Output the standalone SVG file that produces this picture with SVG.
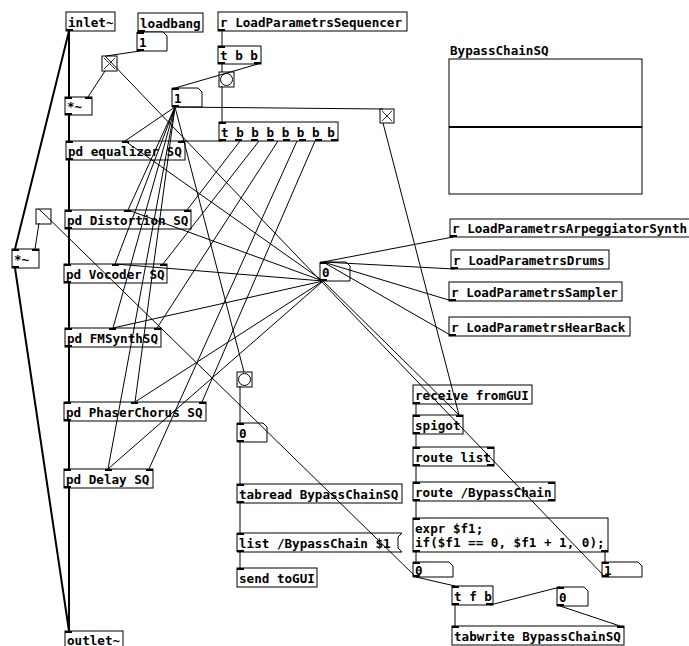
<svg xmlns="http://www.w3.org/2000/svg" width="689" height="646" viewBox="0 0 689 646">
<style>
.b{fill:#fff;stroke:#000;stroke-width:1}
.t{font-family:"DejaVu Sans Mono","Liberation Mono",monospace;font-weight:bold;font-size:12.6px;fill:#000}
.c{stroke:#000;stroke-width:1;fill:none}
.x{stroke:#333;stroke-width:1;fill:none}
.s{stroke:#000;stroke-width:2;fill:none}
.io{fill:#000}
</style>
<rect width="689" height="646" fill="#fff"/>
<g id="inlet"><rect class="b" x="66" y="12" width="49" height="19"/><text class="t" x="68" y="27">inlet~</text><rect class="io" x="66" y="29" width="7" height="2"/></g>
<g id="loadbang"><rect class="b" x="138" y="13" width="65" height="19"/><text class="t" x="140" y="28">loadbang</text><rect class="io" x="138" y="30" width="7" height="2"/></g>
<g id="num1a"><path class="b" d="M137,32H163L167,36V51H137Z"/><text class="t" x="139" y="47">1</text><rect class="io" x="137" y="32" width="7" height="2"/><rect class="io" x="137" y="49" width="7" height="2"/></g>
<g id="tog1"><rect class="b" x="102" y="56" width="15" height="15"/><path class="x" d="M104,58L115,69M115,58L104,69"/></g>
<g id="mul1"><rect class="b" x="65" y="97" width="27" height="18"/><text class="t" x="67" y="111">*~</text><rect class="io" x="65" y="97" width="7" height="2"/><rect class="io" x="85" y="97" width="7" height="2"/><rect class="io" x="65" y="113" width="7" height="2"/></g>
<g id="num1c"><path class="b" d="M172,88H198L202,92V107H172Z"/><text class="t" x="174" y="103">1</text><rect class="io" x="172" y="88" width="7" height="2"/><rect class="io" x="172" y="105" width="7" height="2"/></g>
<g id="rSeq"><rect class="b" x="218" y="12" width="189" height="19"/><text class="t" x="220" y="27">r LoadParametrsSequencer</text><rect class="io" x="218" y="29" width="7" height="2"/></g>
<g id="tbb"><rect class="b" x="218" y="46" width="43" height="18"/><text class="t" x="220" y="60">t b b</text><rect class="io" x="218" y="46" width="7" height="2"/><rect class="io" x="218" y="62" width="7" height="2"/><rect class="io" x="254" y="62" width="7" height="2"/></g>
<g id="bng1"><rect class="b" x="219" y="72" width="15" height="15"/><circle class="b" cx="226.5" cy="79.5" r="6"/></g>
<g id="t8"><rect class="b" x="219" y="122" width="119" height="19"/><text class="t" x="221" y="137">t b b b b b b b</text><rect class="io" x="219" y="122" width="7" height="2"/><path class="io" d="M219,139h7v2h-7zM235,139h7v2h-7zM251,139h7v2h-7zM267,139h7v2h-7zM283,139h7v2h-7zM299,139h7v2h-7zM315,139h7v2h-7zM331,139h7v2h-7z"/></g>
<g id="tog2"><rect class="b" x="380" y="109" width="14" height="14"/><path class="x" d="M382,111L392,121M392,111L382,121"/></g>
<g id="eq"><rect class="b" x="66" y="141" width="119" height="19"/><text class="t" x="68" y="156">pd equalizer SQ</text><path class="io" d="M66,141h7v2h-7zM122,141h7v2h-7zM178,141h7v2h-7zM66,158h7v2h-7z"/></g>
<g id="dist"><rect class="b" x="65" y="210" width="126" height="19"/><text class="t" x="67" y="225">pd Distortion SQ</text><path class="io" d="M65,210h7v2h-7zM124,210h7v2h-7zM184,210h7v2h-7zM65,227h7v2h-7z"/></g>
<g id="voc"><rect class="b" x="64" y="264" width="103" height="19"/><text class="t" x="66" y="279">pd Vocoder SQ</text><path class="io" d="M64,264h7v2h-7zM112,264h7v2h-7zM160,264h7v2h-7zM64,281h7v2h-7z"/></g>
<g id="fm"><rect class="b" x="65" y="328" width="96" height="19"/><text class="t" x="67" y="343">pd FMSynthSQ</text><path class="io" d="M65,328h7v2h-7zM109,328h7v2h-7zM154,328h7v2h-7zM65,345h7v2h-7z"/></g>
<g id="tog3"><rect class="b" x="36" y="209" width="15" height="15"/></g>
<g id="mul2"><rect class="b" x="12" y="249" width="27" height="19"/><text class="t" x="14" y="264">*~</text><path class="io" d="M12,249h7v2h-7zM32,249h7v2h-7zM12,266h7v2h-7z"/></g>
<g id="ph"><rect class="b" x="64" y="402" width="142" height="19"/><text class="t" x="66" y="417">pd PhaserChorus SQ</text><path class="io" d="M64,402h7v2h-7zM131,402h7v2h-7zM199,402h7v2h-7zM64,419h7v2h-7z"/></g>
<g id="dl"><rect class="b" x="64" y="469" width="89" height="19"/><text class="t" x="66" y="484">pd Delay SQ</text><path class="io" d="M64,469h7v2h-7zM105,469h7v2h-7zM146,469h7v2h-7zM64,486h7v2h-7z"/></g>
<g id="outlet"><rect class="b" x="65" y="631" width="58" height="19"/><text class="t" x="67" y="645">outlet~</text><rect class="io" x="65" y="631" width="7" height="2"/></g>
<g id="numT"><path class="b" d="M320,262H346L350,266V281H320Z"/><text class="t" x="322" y="277">0</text><path class="io" d="M320,262h7v2h-7zM320,279h7v2h-7z"/></g>
<g id="rArp"><rect class="b" x="450" y="219" width="245" height="18"/><text class="t" x="452" y="233">r LoadParametrsArpeggiatorSynth</text><rect class="io" x="450" y="235" width="7" height="2"/></g>
<g id="rDrums"><rect class="b" x="451" y="250" width="158" height="19"/><text class="t" x="453" y="265">r LoadParametrsDrums</text><rect class="io" x="451" y="267" width="7" height="2"/></g>
<g id="rSamp"><rect class="b" x="449" y="282" width="173" height="19"/><text class="t" x="451" y="297">r LoadParametrsSampler</text><rect class="io" x="449" y="299" width="7" height="2"/></g>
<g id="rHear"><rect class="b" x="449" y="317" width="181" height="19"/><text class="t" x="451" y="332">r LoadParametrsHearBack</text><rect class="io" x="449" y="334" width="7" height="2"/></g>
<g id="array"><text class="t" x="450" y="55">BypassChainSQ</text><rect class="b" x="449" y="59" width="193" height="135"/><path class="s" d="M449,127H642"/></g>
<g id="bng2"><rect class="b" x="237" y="372" width="15" height="15"/><circle class="b" cx="244.5" cy="379.5" r="6"/></g>
<g id="num0a"><path class="b" d="M237,423H263L267,427V442H237Z"/><text class="t" x="239" y="438">0</text><path class="io" d="M237,423h7v2h-7zM237,440h7v2h-7z"/></g>
<g id="tabread"><rect class="b" x="237" y="484" width="165" height="19"/><text class="t" x="239" y="499">tabread BypassChainSQ</text><path class="io" d="M237,484h7v2h-7zM237,501h7v2h-7z"/></g>
<g id="listmsg"><path class="b" d="M237,533H402L398,537V548L402,552H237Z"/><text class="t" x="239" y="548">list /BypassChain $1</text><path class="io" d="M237,533h7v2h-7zM237,550h7v2h-7z"/></g>
<g id="send"><rect class="b" x="237" y="568" width="80" height="19"/><text class="t" x="239" y="583">send toGUI</text><rect class="io" x="237" y="568" width="7" height="2"/></g>
<g id="recv"><rect class="b" x="413" y="385" width="119" height="19"/><text class="t" x="415" y="400">receive fromGUI</text><rect class="io" x="413" y="402" width="7" height="2"/></g>
<g id="spigot"><rect class="b" x="413" y="415" width="50" height="19"/><text class="t" x="415" y="430">spigot</text><path class="io" d="M413,415h7v2h-7zM456,415h7v2h-7zM413,432h7v2h-7z"/></g>
<g id="rlist"><rect class="b" x="413" y="447" width="81" height="19"/><text class="t" x="415" y="462">route list</text><path class="io" d="M413,447h7v2h-7zM487,447h7v2h-7zM413,464h7v2h-7zM487,464h7v2h-7z"/></g>
<g id="rbyp"><rect class="b" x="413" y="482" width="142" height="19"/><text class="t" x="415" y="497">route /BypassChain</text><path class="io" d="M413,482h7v2h-7zM548,482h7v2h-7zM413,499h7v2h-7zM548,499h7v2h-7z"/></g>
<g id="expr"><rect class="b" x="413" y="518" width="195" height="34"/><text class="t" x="415" y="533">expr $f1;</text><text class="t" x="415" y="547">if($f1 == 0, $f1 + 1, 0);</text><path class="io" d="M413,518h7v2h-7zM413,550h7v2h-7zM601,550h7v2h-7z"/></g>
<g id="num0b"><path class="b" d="M413,562H449L453,566V577H413Z"/><text class="t" x="415" y="575">0</text><path class="io" d="M413,562h7v2h-7zM413,575h7v2h-7z"/></g>
<g id="num1b"><path class="b" d="M602,562H638L642,566V577H602Z"/><text class="t" x="604" y="575">1</text><path class="io" d="M602,562h7v2h-7zM602,575h7v2h-7z"/></g>
<g id="tfb"><rect class="b" x="452" y="586" width="41" height="19"/><text class="t" x="454" y="601">t f b</text><path class="io" d="M452,586h7v2h-7zM452,603h7v2h-7zM486,603h7v2h-7z"/></g>
<g id="num0c"><path class="b" d="M557,587H584L588,591V606H557Z"/><text class="t" x="559" y="602">0</text><path class="io" d="M557,587h7v2h-7zM557,604h7v2h-7z"/></g>
<g id="tabwrite"><rect class="b" x="452" y="626" width="172" height="19"/><text class="t" x="454" y="641">tabwrite BypassChainSQ</text><path class="io" d="M452,626h7v2h-7zM617,626h7v2h-7z"/></g>
<g id="connectors">
<path class="s" d="M69,31V97M69,115V141M69,160V210M69,229V264M69,283V328M69,347V402M69,421V469M69,488V631M69,31L15,249M15,268L69,631"/>
<path class="c" d="M222,31V46M222,64V72M258,64L175,88M222,86V122M140,51L106,56M105,71L88,97M175,107L383,109M383,123L459,415M323,281L459,415M605,577L105,56M416,577L39,209M39,223L35,249"/>
<path class="c" d="M453,237L323,262M454,269L323,262M452,301L323,262M452,336L323,262"/>
<path class="c" d="M175,107L125,141M175,107L128,210M175,107L115,264M175,107L113,328M175,107L135,402M175,107L108,469"/>
<path class="c" d="M323,281L125,141M323,281L128,210M323,281L115,264M323,281L113,328M323,281L135,402M323,281L108,469"/>
<path class="c" d="M222,141L181,141M240,141L187,210M259,141L163,264M278,141L157,328M297,141L149,469M315,141L202,402M175,107L244,372"/>
<path class="c" d="M240,386V423M240,442V484M240,503V533M240,552V568M416,404V415M416,434V447M416,466V482M416,501V518M416,552V562M605,552V562M416,577L455,586M455,605V626M490,605L560,587M560,606L620,626"/>
</g>
</svg>
